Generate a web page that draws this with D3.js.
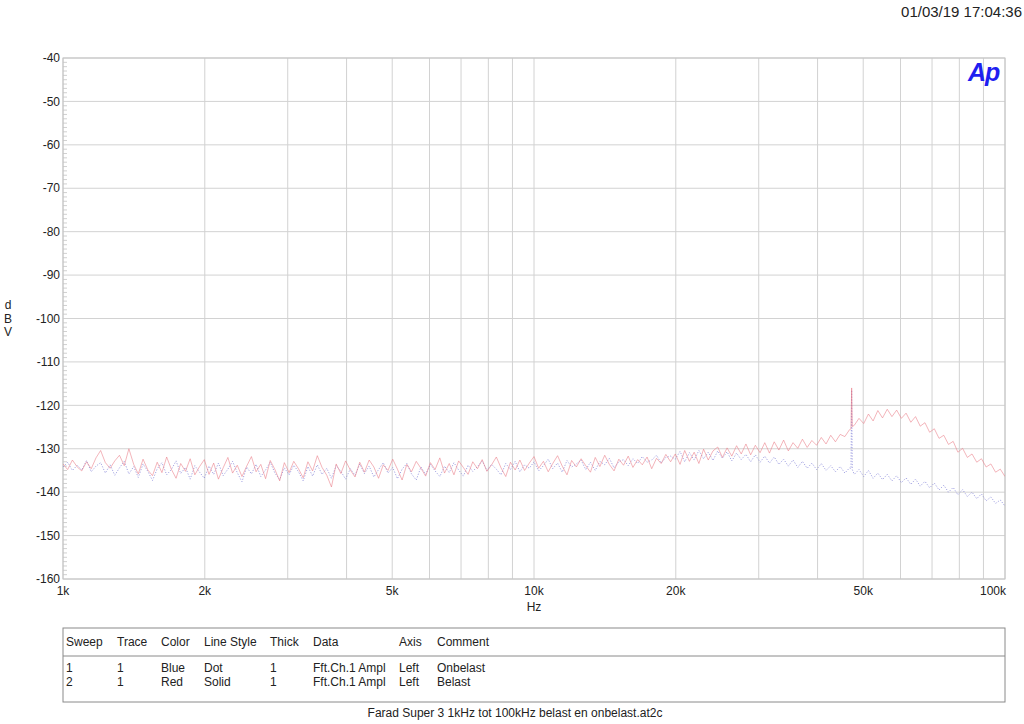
<!DOCTYPE html>
<html><head><meta charset="utf-8">
<script src="https://cdn.jsdelivr.net/npm/d3@7/dist/d3.min.js"></script>
<style>
body{margin:0;background:#fff;}
svg{display:block;font-family:"Liberation Sans",Arial,Helvetica,sans-serif;}
</style></head>
<body>
<svg id="c" width="1024" height="724"></svg>
<script>
// ---- data ----
const mantissa = [1000,1023,1047,1072,1096,1122,1148,1175,1202,1230,1259,1288,1318,1349,1380,1413,1445,1479,1514,1549,1585,1622,1660,1698,1738,1778,1820,1862,1905,1950,1995,2042,2089,2138,2188,2239,2291,2344,2399,2455,2512,2570,2630,2692,2754,2818,2884,2951,3020,3090,3162,3236,3311,3388,3467,3548,3631,3715,3802,3890,3981,4074,4169,4266,4365,4467,4571,4677,4786,4898,5012,5129,5248,5370,5495,5623,5754,5888,6026,6166,6310,6457,6607,6761,6918,7079,7244,7413,7586,7762,7943,8128,8318,8511,8710,8913,9120,9333,9550,9772];
const freqs = mantissa.concat(mantissa.map(m => m * 10), [100000]);

const belast = [ // Red, Solid (sweep 2)
-133.5,-134.8,-132.6,-134.2,-135.1,-133.0,-134.6,-132.1,-130.4,-133.2,
-134.5,-132.8,-131.5,-133.9,-130.0,-133.6,-135.8,-132.4,-134.9,-136.2,
-133.1,-135.5,-131.9,-134.7,-136.8,-133.4,-135.2,-132.3,-136.0,-134.1,
-132.5,-135.9,-133.3,-137.0,-134.4,-132.0,-135.6,-133.8,-136.4,-134.0,
-131.8,-135.3,-133.6,-136.9,-132.7,-134.8,-137.4,-133.2,-135.5,-132.9,
-134.6,-136.7,-133.0,-135.1,-131.6,-134.3,-136.1,-138.8,-133.5,-135.7,
-132.8,-134.9,-136.5,-133.1,-135.4,-132.6,-134.2,-136.8,-133.7,-135.0,
-132.4,-134.7,-137.2,-133.6,-135.3,-132.9,-134.5,-136.3,-133.2,-134.8,
-132.1,-135.6,-133.4,-136.0,-132.8,-134.3,-135.9,-133.0,-134.6,-132.5,
-135.2,-133.7,-131.9,-134.4,-136.4,-133.1,-134.9,-132.6,-135.0,-133.3,
-131.8,-134.5,-132.9,-135.3,-133.4,-131.6,-134.0,-136.0,-132.7,-134.2,
-132.3,-133.9,-135.4,-132.0,-134.1,-131.5,-133.6,-135.1,-132.4,-133.8,
-131.7,-134.3,-132.5,-133.7,-131.9,-134.6,-132.2,-133.4,-131.3,-133.0,
-131.2,-133.6,-130.4,-132.9,-130.8,-133.4,-130.1,-132.6,-130.5,-129.6,
-132.0,-129.8,-131.7,-129.3,-131.2,-128.9,-131.4,-129.2,-130.9,-128.6,
-131.0,-128.4,-130.3,-128.0,-130.5,-128.6,-129.9,-127.8,-129.7,-128.1,
-129.2,-127.4,-128.9,-126.9,-128.4,-126.7,-127.2,-125.6,-124.6,-123.0,
-124.2,-122.0,-123.6,-121.2,-122.9,-120.9,-122.6,-121.1,-123.0,-121.8,
-123.9,-122.6,-124.8,-124.0,-126.2,-125.4,-127.6,-126.9,-129.0,-128.3,
-130.8,-129.9,-132.0,-131.2,-133.1,-132.3,-134.2,-133.5,-135.4,-134.7,
-136.4];

const onbelast = [ // Blue, Dot (sweep 1)
-134.2,-133.1,-135.0,-133.8,-134.9,-132.7,-135.3,-134.0,-133.2,-135.6,
-133.7,-136.1,-134.4,-132.9,-135.8,-134.1,-136.6,-133.5,-135.2,-137.3,
-134.6,-133.2,-136.0,-134.8,-132.8,-135.7,-134.3,-137.0,-133.9,-135.4,
-136.8,-134.0,-135.9,-133.3,-136.2,-134.7,-132.9,-135.5,-137.6,-134.2,
-135.8,-133.6,-136.4,-134.9,-133.1,-135.6,-137.1,-134.4,-136.0,-133.8,
-135.3,-137.4,-134.1,-136.3,-133.7,-135.9,-134.5,-136.8,-133.9,-135.2,
-137.0,-134.6,-136.1,-133.5,-135.7,-134.0,-136.5,-134.8,-133.2,-135.6,
-134.3,-136.9,-134.7,-133.4,-135.8,-137.2,-134.2,-135.9,-133.6,-135.1,
-136.4,-134.0,-135.5,-133.2,-134.9,-136.3,-133.8,-135.2,-134.1,-132.8,
-135.0,-133.6,-134.7,-136.0,-133.4,-134.8,-132.9,-135.3,-133.7,-134.5,
-133.0,-135.1,-133.9,-132.4,-134.6,-133.3,-135.4,-132.7,-134.2,-133.5,
-132.6,-134.8,-133.1,-135.0,-132.9,-133.7,-132.2,-134.4,-133.0,-132.5,
-133.9,-132.3,-133.4,-131.8,-133.1,-132.6,-131.5,-133.3,-132.0,-131.7,
-132.4,-130.6,-133.0,-130.9,-132.6,-130.4,-132.3,-130.8,-132.7,-130.5,
-132.2,-130.7,-132.8,-131.0,-132.5,-131.3,-133.0,-131.4,-133.1,-131.7,
-133.3,-131.9,-133.6,-132.4,-134.0,-132.6,-134.3,-132.9,-134.5,-133.3,
-134.8,-133.4,-135.0,-133.9,-135.3,-134.1,-135.6,-134.4,-135.9,-134.8,
-136.4,-135.0,-136.8,-135.6,-137.1,-135.9,-137.4,-136.2,-137.8,-136.7,
-138.2,-137.0,-138.6,-137.5,-139.0,-137.9,-139.5,-138.4,-140.0,-138.9,
-140.6,-139.4,-141.0,-140.0,-141.5,-140.4,-142.0,-141.1,-142.6,-141.8,
-143.2];

// narrow tone near 47 kHz (both sweeps)
const spikeFreqs = [47100, 47250, 47400];
const spikeBelast = [-125.4, -116.0, -124.9];
const spikeOnbelast = [-134.6, -116.5, -134.8];

const yTicks = [-40,-50,-60,-70,-80,-90,-100,-110,-120,-130,-140,-150,-160];
const xGrid = [1000,2000,3000,4000,5000,6000,7000,8000,9000,10000,20000,30000,40000,50000,60000,70000,80000,90000,100000];
const xLabels = [[1000,"1k"],[2000,"2k"],[5000,"5k"],[10000,"10k"],[20000,"20k"],[50000,"50k"],[100000,"100k"]];
const legendHead = ["Sweep","Trace","Color","Line Style","Thick","Data","Axis","Comment"];
const legendRows = [
  ["1","1","Blue","Dot","1","Fft.Ch.1 Ampl","Left","Onbelast"],
  ["2","1","Red","Solid","1","Fft.Ch.1 Ampl","Left","Belast"]
];
const stamp = "01/03/19 17:04:36";
const footer = "Farad Super 3 1kHz tot 100kHz belast en onbelast.at2c";

// ---- drawing ----
const svg = d3.select("#c");
const L = 63, R = 1005, T = 58, B = 579;
const x = d3.scaleLog().domain([1000,100000]).range([L,R]);
const y = d3.scaleLinear().domain([-160,-40]).range([B,T]);
const gridCol = "#d2d2d2", txt = "#222";

function merge(fs, vs, sf, sv) {
  const pts = fs.map((f,i)=>[f,vs[i]]).concat(sf.map((f,i)=>[f,sv[i]]));
  return pts.sort((a,b)=>a[0]-b[0]);
}

// grid
svg.append("g").selectAll("line").data(yTicks).join("line")
  .attr("x1",L).attr("x2",R).attr("y1",d=>y(d)).attr("y2",d=>y(d))
  .attr("stroke",gridCol).attr("stroke-width",1);
svg.append("g").selectAll("line").data(xGrid).join("line")
  .attr("x1",d=>x(d)).attr("x2",d=>x(d)).attr("y1",T).attr("y2",B)
  .attr("stroke",gridCol).attr("stroke-width",1);

// minor ticks on left
const minor = d3.range(-160,-40,1).filter(v => v % 10 !== 0);
svg.append("g").selectAll("line").data(minor).join("line")
  .attr("x1",L).attr("x2",L+4).attr("y1",d=>y(d)).attr("y2",d=>y(d))
  .attr("stroke","#c4c4c4").attr("stroke-width",0.8);

// frame
svg.append("rect").attr("x",L).attr("y",T).attr("width",R-L).attr("height",B-T)
  .attr("fill","none").attr("stroke","#c4c4c4").attr("stroke-width",1);

// y labels
svg.append("g").selectAll("text").data(yTicks).join("text")
  .attr("x",60).attr("y",d=>y(d)).attr("dy","0.35em").attr("text-anchor","end")
  .attr("font-size",12).attr("fill",txt).text(d=>d);

// x labels
svg.append("g").selectAll("text").data(xLabels).join("text")
  .attr("x",d=>d[0]===100000 ? x(d[0])+1 : x(d[0]))
  .attr("y",591).attr("dy","0.35em")
  .attr("text-anchor",d=>d[0]===100000 ? "end" : "middle")
  .attr("font-size",12).attr("fill",txt).text(d=>d[1]);

svg.append("text").attr("x",534).attr("y",607).attr("dy","0.35em").attr("text-anchor","middle")
  .attr("font-size",12).attr("fill",txt).text("Hz");
svg.append("g").selectAll("text").data(["d","B","V"]).join("text")
  .attr("x",8).attr("y",(d,i)=>305+i*13.5).attr("dy","0.35em").attr("text-anchor","middle")
  .attr("font-size",12).attr("fill",txt).text(d=>d);

// traces
const line = d3.line().x(d=>x(d[0])).y(d=>y(d[1]));
svg.append("defs").append("clipPath").attr("id","pc")
  .append("rect").attr("x",L).attr("y",T).attr("width",R-L).attr("height",B-T);
const pg = svg.append("g").attr("clip-path","url(#pc)");
pg.append("path").datum(merge(freqs, onbelast, spikeFreqs, spikeOnbelast))
  .attr("d",line).attr("fill","none").attr("stroke","#7c7cd6").attr("stroke-width",1)
  .attr("stroke-dasharray","1.2,1.6").attr("stroke-opacity",0.7);
pg.append("path").datum(merge(freqs, belast, spikeFreqs, spikeBelast))
  .attr("d",line).attr("fill","none").attr("stroke","#ea7884").attr("stroke-width",0.85)
  .attr("stroke-opacity",0.65);

// Ap logo
svg.append("text").attr("x",968).attr("y",81).attr("font-size",25).attr("font-weight","bold")
  .attr("font-style","italic").attr("fill","#1f1ff0").attr("letter-spacing",-1).text("Ap");

// timestamp
svg.append("text").attr("x",1022).attr("y",12).attr("dy","0.35em").attr("text-anchor","end")
  .attr("font-size",15).attr("fill",txt).text(stamp);

// legend table
svg.append("rect").attr("x",L).attr("y",628).attr("width",R-L).attr("height",74)
  .attr("fill","none").attr("stroke","#8a8a8a").attr("stroke-width",1);
svg.append("line").attr("x1",L).attr("x2",R).attr("y1",656).attr("y2",656)
  .attr("stroke","#8a8a8a").attr("stroke-width",1);
const colX = [66,117,161,204,270,313,399,437];
svg.append("g").selectAll("text").data(legendHead).join("text")
  .attr("x",(d,i)=>colX[i]).attr("y",642).attr("dy","0.35em")
  .attr("font-size",12).attr("fill",txt).text(d=>d);
legendRows.forEach((row,r)=>{
  svg.append("g").selectAll("text").data(row).join("text")
    .attr("x",(d,i)=>colX[i]).attr("y",668+r*13.5).attr("dy","0.35em")
    .attr("font-size",12).attr("fill",txt).text(d=>d);
});

svg.append("text").attr("x",515).attr("y",713).attr("dy","0.35em").attr("text-anchor","middle")
  .attr("font-size",12).attr("fill",txt).text(footer);
</script>
</body></html>
